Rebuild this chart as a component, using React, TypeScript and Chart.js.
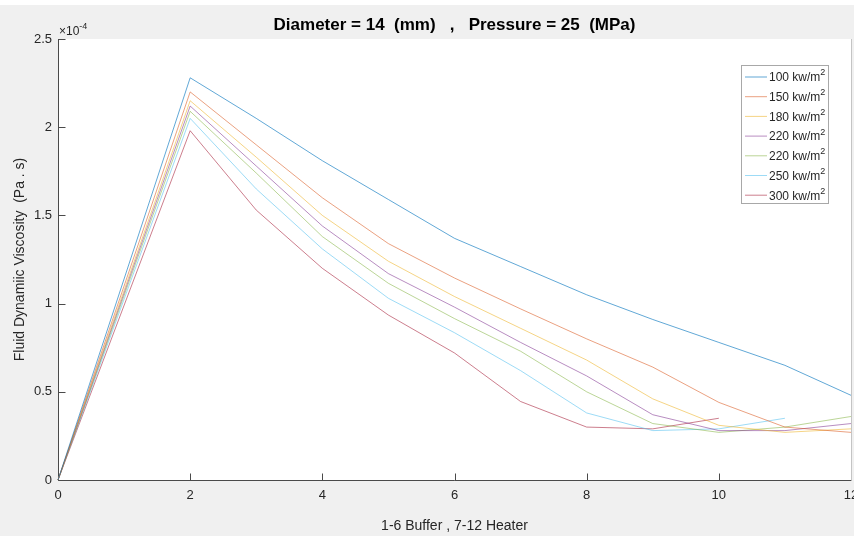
import React, { useEffect, useRef } from "react";
import { Chart, registerables } from "chart.js";

Chart.register(...registerables);

// Axis positions (sections 1-6 buffer, 7-12 heater); values in units of 1e-4 Pa.s
const xPositions = [0, 2, 3, 4, 5, 6, 7, 8, 9, 10, 11, 12];
const xTicks = [0, 2, 4, 6, 8, 10, 12];
const yTicks = [0, 0.5, 1, 1.5, 2, 2.5];

const seriesNames = [
  "100 kw/m²",
  "150 kw/m²",
  "180 kw/m²",
  "220 kw/m²",
  "220 kw/m²",
  "250 kw/m²",
  "300 kw/m²",
];

const flux100 = [0, 2.28, 2.05, 1.81, 1.59, 1.37, 1.21, 1.05, 0.91, 0.78, 0.65, 0.48];
const flux150 = [0, 2.2, 1.9, 1.6, 1.34, 1.145, 0.97, 0.8, 0.64, 0.44, 0.3, 0.27];
const flux180 = [0, 2.15, 1.83, 1.5, 1.24, 1.04, 0.86, 0.68, 0.46, 0.31, 0.27, 0.29];
const flux220a = [0, 2.12, 1.78, 1.44, 1.17, 0.98, 0.78, 0.59, 0.37, 0.28, 0.28, 0.32];
const flux220b = [0, 2.09, 1.74, 1.38, 1.115, 0.915, 0.73, 0.5, 0.32, 0.27, 0.3, 0.36];
const flux250 = [0, 2.05, 1.65, 1.31, 1.03, 0.835, 0.62, 0.38, 0.28, 0.29, 0.35];
const flux300 = [0, 1.98, 1.53, 1.2, 0.935, 0.72, 0.445, 0.3, 0.29, 0.35];

const seriesValues = [flux100, flux150, flux180, flux220a, flux220b, flux250, flux300];

const seriesColors = [
  "rgba(0,114,189,0.62)",
  "rgba(217,83,25,0.55)",
  "rgba(237,177,32,0.55)",
  "rgba(126,47,142,0.55)",
  "rgba(119,172,48,0.5)",
  "rgba(77,190,238,0.55)",
  "rgba(162,20,47,0.55)",
];

const titleText = "Diameter = 14  (mm)   ,   Pressure = 25  (MPa)";
const xLabel = "1-6 Buffer , 7-12 Heater";
const yLabel = "Fluid Dynamiic Viscosity  (Pa . s)";

const FONT = "'Liberation Sans', Arial, Helvetica, sans-serif";
const TEXT = "#262626";
const AXIS = "#4a4a4a";

const decor = {
  id: "decor",
  beforeDraw(chart: any) {
    const { ctx, width, height, chartArea: a } = chart;
    ctx.save();
    ctx.fillStyle = "#f0f0f0";
    ctx.fillRect(0, 0, width, height);
    ctx.fillStyle = "#ffffff";
    ctx.fillRect(0, 0, width, 5);
    ctx.fillRect(a.left, a.top, a.right - a.left, a.bottom - a.top);
    ctx.restore();
  },
  beforeDatasetsDraw(chart: any) {
    const { ctx, chartArea: a, scales } = chart;
    const xs = scales.x;
    const ys = scales.y;
    ctx.save();
    ctx.strokeStyle = AXIS;
    ctx.lineWidth = 1;
    ctx.beginPath();
    const L = Math.round(a.left) + 0.5;
    const B = Math.round(a.bottom) + 0.5;
    ctx.moveTo(L, a.top);
    ctx.lineTo(L, B);
    ctx.lineTo(a.right, B);
    for (const t of xTicks) {
      const px = Math.round(xs.getPixelForValue(t)) + 0.5;
      ctx.moveTo(px, B);
      ctx.lineTo(px, B - 7);
    }
    for (const t of yTicks) {
      const py = Math.round(ys.getPixelForValue(t)) + 0.5;
      ctx.moveTo(L, py);
      ctx.lineTo(L + 7, py);
    }
    ctx.stroke();
    ctx.strokeStyle = "#c4c4c4";
    ctx.beginPath();
    ctx.moveTo(Math.round(a.right) + 0.5, a.top);
    ctx.lineTo(Math.round(a.right) + 0.5, B);
    ctx.stroke();
    ctx.restore();
  },
  afterDraw(chart: any) {
    const { ctx, chartArea: a } = chart;
    ctx.save();
    // title
    ctx.fillStyle = "#000";
    ctx.font = `bold 17px ${FONT}`;
    ctx.textAlign = "center";
    ctx.textBaseline = "middle";
    ctx.fillText(titleText, (a.left + a.right) / 2, 25);
    // exponent
    ctx.fillStyle = TEXT;
    ctx.textAlign = "left";
    ctx.textBaseline = "alphabetic";
    ctx.font = `12px ${FONT}`;
    ctx.fillText("×10", a.left + 1, 35);
    const w = ctx.measureText("×10").width;
    ctx.font = `9px ${FONT}`;
    ctx.fillText("-4", a.left + 1 + w, 29);
    // legend
    const lx = 741, ly = 65, lw = 87, lh = 138;
    ctx.fillStyle = "#ffffff";
    ctx.fillRect(lx, ly, lw, lh);
    ctx.strokeStyle = "#a8a8a8";
    ctx.lineWidth = 1;
    ctx.strokeRect(lx + 0.5, ly + 0.5, lw, lh);
    seriesNames.forEach((name, i) => {
      const y = ly + 12 + i * 19.7;
      ctx.strokeStyle = seriesColors[i];
      ctx.beginPath();
      ctx.moveTo(745, y);
      ctx.lineTo(767, y);
      ctx.stroke();
      const base = name.replace("²", "");
      ctx.fillStyle = TEXT;
      ctx.font = `12px ${FONT}`;
      ctx.textBaseline = "middle";
      ctx.fillText(base, 769, y + 1);
      const bw = ctx.measureText(base).width;
      ctx.font = `9px ${FONT}`;
      ctx.fillText("2", 769 + bw, y - 4);
    });
    ctx.restore();
  },
};

export default function App() {
  const ref = useRef<HTMLCanvasElement | null>(null);

  useEffect(() => {
    document.body.style.margin = "0";
    const canvas = ref.current;
    if (!canvas) return;
    const datasets = seriesValues.map((vals, i) => ({
      label: seriesNames[i],
      data: vals.map((v, j) => ({ x: xPositions[j], y: v })),
      borderColor: seriesColors[i],
      backgroundColor: seriesColors[i],
      borderWidth: 1,
      pointRadius: 0,
      fill: false,
      tension: 0,
      clip: 2,
    }));
    const chart = new Chart(canvas, {
      type: "line",
      data: { datasets },
      plugins: [decor],
      options: {
        animation: false,
        responsive: false,
        devicePixelRatio: 1,
        layout: { padding: { top: 39, right: 3, left: 0, bottom: 0 } },
        plugins: { legend: { display: false }, title: { display: false }, tooltip: { enabled: false } },
        scales: {
          x: {
            type: "linear",
            min: 0,
            max: 12,
            afterBuildTicks: (s: any) => {
              s.ticks = xTicks.map((v) => ({ value: v }));
            },
            afterFit: (s: any) => {
              s.height = 56;
              s.paddingLeft = 0;
              s.paddingRight = 0;
            },
            grid: { display: false, drawTicks: false },
            border: { display: false },
            ticks: {
              padding: 8,
              color: TEXT,
              font: { family: FONT, size: 13 },
              maxRotation: 0,
              autoSkip: false,
              callback: (v: any) => String(v),
            },
            title: {
              display: true,
              text: xLabel,
              color: TEXT,
              font: { family: FONT, size: 14 },
              padding: { top: 0, bottom: 1 },
            },
          },
          y: {
            type: "linear",
            min: 0,
            max: 2.5,
            afterBuildTicks: (s: any) => {
              s.ticks = yTicks.map((v) => ({ value: v }));
            },
            afterFit: (s: any) => {
              s.width = 58;
              s.paddingTop = 0;
              s.paddingBottom = 0;
            },
            grid: { display: false, drawTicks: false },
            border: { display: false },
            ticks: {
              padding: 6,
              color: TEXT,
              font: { family: FONT, size: 13 },
              autoSkip: false,
              callback: (v: any) => String(Math.round(Number(v) * 10) / 10),
            },
            title: {
              display: true,
              text: yLabel,
              color: TEXT,
              font: { family: FONT, size: 14 },
              padding: { top: 12, bottom: 0 },
            },
          },
        },
      } as any,
    });
    return () => chart.destroy();
  }, []);

  return <canvas ref={ref} width={854} height={536} style={{ display: "block" }} />;
}
